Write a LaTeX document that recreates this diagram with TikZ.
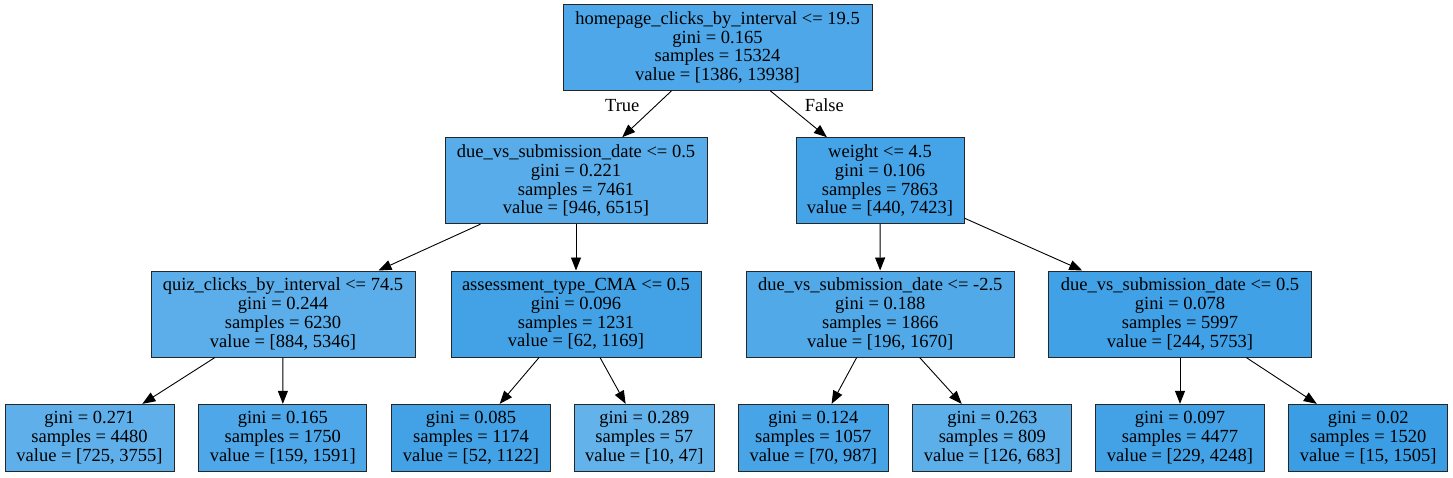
\documentclass[tikz,border=0pt]{standalone}
\usepackage{fontspec}
\setmainfont{Liberation Serif}
\usetikzlibrary{arrows.meta}
\definecolor{cls}{RGB}{57,157,229}
\tikzset{
  tnode/.style={draw=black!85, line width=1pt, rectangle, inner sep=0pt, align=center,
     font=\fontsize{18.5}{18.7}\selectfont, text=black},
  inner/.style={tnode, minimum height=86pt},
  leaf/.style={tnode, minimum height=66.7pt},
  edge/.style={line width=0.9pt, -{Triangle[length=13pt,width=10pt]}},
  elabel/.style={font=\fontsize{18.5}{18.7}\selectfont}
}
\begin{document}
\begin{tikzpicture}[x=1pt,y=-1pt]
\useasboundingbox (0,0) rectangle (1453,477);
\fill[white] (0,0) rectangle (1453,477);
% root
\node[inner, minimum width=309pt, minimum height=85.6pt, fill=cls!90!white] (n0) at (717.5,47.5)
  {homepage\_clicks\_by\_interval <= 19.5\\gini = 0.165\\samples = 15324\\value = [1386, 13938]};
% level 1
\node[inner, minimum width=262pt, fill=cls!85!white] (n1) at (576,180.7)
  {due\_vs\_submission\_date <= 0.5\\gini = 0.221\\samples = 7461\\value = [946, 6515]};
\node[inner, minimum width=168pt, fill=cls!94!white] (n2) at (880,180.7)
  {weight <= 4.5\\gini = 0.106\\samples = 7863\\value = [440, 7423]};
% level 2
\node[inner, minimum width=264pt, fill=cls!83!white] (n3) at (283,314)
  {quiz\_clicks\_by\_interval <= 74.5\\gini = 0.244\\samples = 6230\\value = [884, 5346]};
\node[inner, minimum width=250pt, fill=cls!95!white] (n4) at (576,314)
  {assessment\_type\_CMA <= 0.5\\gini = 0.096\\samples = 1231\\value = [62, 1169]};
\node[inner, minimum width=267.7pt, fill=cls!88!white] (n5) at (880.2,314)
  {due\_vs\_submission\_date <= -2.5\\gini = 0.188\\samples = 1866\\value = [196, 1670]};
\node[inner, minimum width=262.6pt, fill=cls!96!white] (n6) at (1180,314)
  {due\_vs\_submission\_date <= 0.5\\gini = 0.078\\samples = 5997\\value = [244, 5753]};
% leaves
\node[leaf, minimum width=169pt, fill=cls!81!white] (l1) at (89.5,437.7)
  {gini = 0.271\\samples = 4480\\value = [725, 3755]};
\node[leaf, minimum width=167.7pt, fill=cls!90!white] (l2) at (282.8,437.7)
  {gini = 0.165\\samples = 1750\\value = [159, 1591]};
\node[leaf, minimum width=158.6pt, fill=cls!95!white] (l3) at (471,437.7)
  {gini = 0.085\\samples = 1174\\value = [52, 1122]};
\node[leaf, minimum width=140pt, fill=cls!79!white] (l4) at (644.3,437.7)
  {gini = 0.289\\samples = 57\\value = [10, 47]};
\node[leaf, minimum width=150pt, fill=cls!93!white] (l5) at (813.3,437.7)
  {gini = 0.124\\samples = 1057\\value = [70, 987]};
\node[leaf, minimum width=158.7pt, fill=cls!82!white] (l6) at (992.3,437.7)
  {gini = 0.263\\samples = 809\\value = [126, 683]};
\node[leaf, minimum width=168.6pt, fill=cls!95!white] (l7) at (1180,437.7)
  {gini = 0.097\\samples = 4477\\value = [229, 4248]};
\node[leaf, minimum width=159pt, fill=cls!99!white] (l8) at (1368.2,437.7)
  {gini = 0.02\\samples = 1520\\value = [15, 1505]};
% edges
\draw[edge] (n0) -- (n1);
\draw[edge] (n0) -- (n2);
\draw[edge] (n1) -- (n3);
\draw[edge] (n1) -- (n4);
\draw[edge] (n2) -- (n5);
\draw[edge] (n2) -- (n6);
\draw[edge] (n3) -- (l1);
\draw[edge] (n3) -- (l2);
\draw[edge] (n4) -- (l3);
\draw[edge] (n4) -- (l4);
\draw[edge] (n5) -- (l5);
\draw[edge] (n5) -- (l6);
\draw[edge] (n6) -- (l7);
\draw[edge] (n6) -- (l8);
% edge labels
\node[elabel] (tlab) at (622.3,105.3) {True};
\node[elabel] (flab) at (824.3,105.3) {False};
\end{tikzpicture}
\end{document}
